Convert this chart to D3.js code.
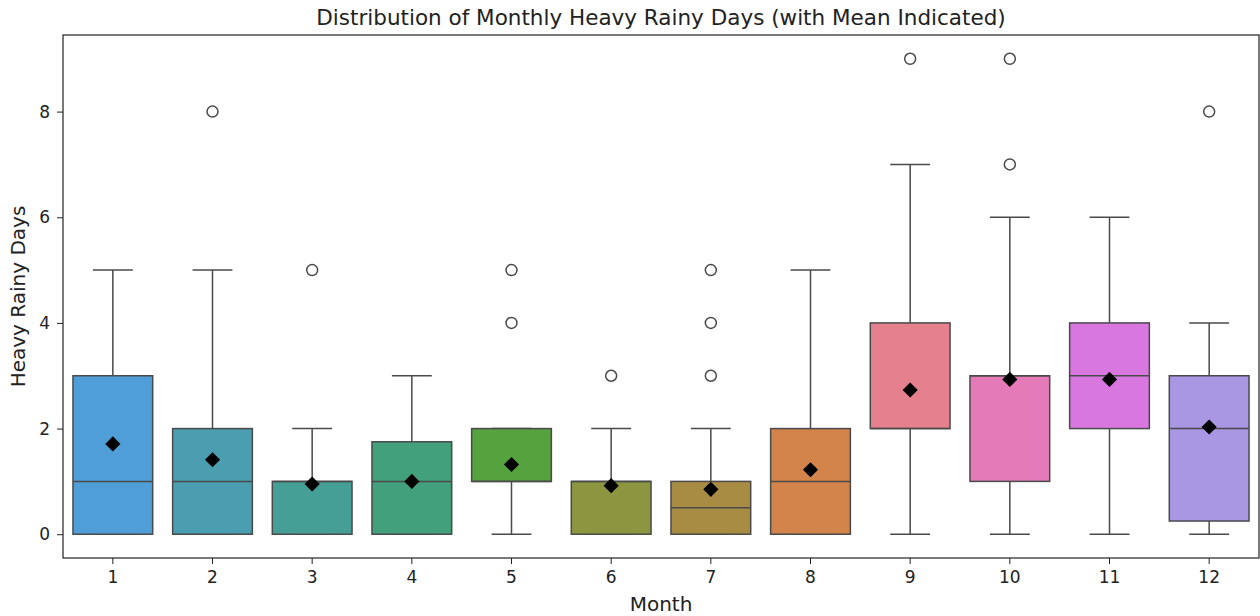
<!DOCTYPE html>
<html>
<head>
<meta charset="utf-8">
<script src="https://cdn.jsdelivr.net/npm/d3@7"></script>
<style>
    body { margin: 0; background: #fff; }
    text { font-family: "DejaVu Sans", sans-serif; fill: #222; }
</style>
</head>
<body>
<svg width="1260" height="616"></svg>
<script>
var months = ["1", "2", "3", "4", "5", "6", "7", "8", "9", "10", "11", "12"];
var q1 = [0, 0, 0, 0, 1, 0, 0, 0, 2, 1, 2, 0.25];
var medians = [1, 1, 1, 1, 1, 1, 0.5, 1, 2, 3, 3, 2];
var q3 = [3, 2, 1, 1.75, 2, 1, 1, 2, 4, 3, 4, 3];
var whiskerLow = [0, 0, 0, 0, 0, 0, 0, 0, 0, 0, 0, 0];
var whiskerHigh = [5, 5, 2, 3, 2, 2, 2, 5, 7, 6, 6, 4];
var means = [1.71, 1.41, 0.95, 1.0, 1.32, 0.92, 0.85, 1.22, 2.73, 2.93, 2.93, 2.03];
var outliers = [[], [8], [5], [], [4, 5], [3], [3, 4, 5], [], [9], [7, 9], [], [8]];
var colors = ["#509ed8", "#4a9eb0", "#469f96", "#42a07c", "#55a23e", "#8c9640",
              "#a88c44", "#d2844a", "#e5808e", "#e47ab8", "#d877e0", "#a997e4"];
var yTicks = [0, 2, 4, 6, 8];

var plotLeft = 63, plotRight = 1259, plotTop = 35, plotBottom = 558;
var lineColor = "#4a4a4a";

var svg = d3.select("svg");

var x = d3.scaleBand()
    .domain(months)
    .range([plotLeft, plotRight])
    .paddingInner(0)
    .paddingOuter(0);
var y = d3.scaleLinear()
    .domain([-0.45, 9.45])
    .range([plotBottom, plotTop]);

var bw = x.bandwidth() * 0.8;

months.forEach(function (m, i) {
    var cx = x(m) + x.bandwidth() / 2;
    var g = svg.append("g");
    // whiskers
    g.append("line")
        .attr("x1", cx).attr("x2", cx)
        .attr("y1", y(q3[i])).attr("y2", y(whiskerHigh[i]))
        .attr("stroke", lineColor).attr("stroke-width", 1.5);
    g.append("line")
        .attr("x1", cx).attr("x2", cx)
        .attr("y1", y(q1[i])).attr("y2", y(whiskerLow[i]))
        .attr("stroke", lineColor).attr("stroke-width", 1.5);
    [whiskerHigh[i], whiskerLow[i]].forEach(function (v) {
        g.append("line")
            .attr("x1", cx - bw / 4).attr("x2", cx + bw / 4)
            .attr("y1", y(v)).attr("y2", y(v))
            .attr("stroke", lineColor).attr("stroke-width", 1.5);
    });
    g.append("rect")
        .attr("x", cx - bw / 2)
        .attr("y", y(q3[i]))
        .attr("width", bw)
        .attr("height", y(q1[i]) - y(q3[i]))
        .attr("fill", colors[i])
        .attr("stroke", lineColor).attr("stroke-width", 1.5);
    g.append("line")
        .attr("x1", cx - bw / 2).attr("x2", cx + bw / 2)
        .attr("y1", y(medians[i])).attr("y2", y(medians[i]))
        .attr("stroke", lineColor).attr("stroke-width", 1.5);
    outliers[i].forEach(function (v) {
        g.append("circle")
            .attr("cx", cx).attr("cy", y(v)).attr("r", 5.5)
            .attr("fill", "none")
            .attr("stroke", lineColor).attr("stroke-width", 1.5);
    });
    g.append("path")
        .attr("d", d3.symbol().type(d3.symbolSquare).size(115))
        .attr("transform", "translate(" + cx + "," + y(means[i]) + ") rotate(45)")
        .attr("fill", "#000");
});

// axes
var xAxis = svg.append("g")
    .attr("transform", "translate(0," + plotBottom + ")")
    .call(d3.axisBottom(x).tickSizeOuter(0).tickSize(6).tickPadding(7));
var yAxis = svg.append("g")
    .attr("transform", "translate(" + plotLeft + ",0)")
    .call(d3.axisLeft(y).tickValues(yTicks).tickSizeOuter(0).tickSize(6).tickPadding(7));
[xAxis, yAxis].forEach(function (a) {
    a.attr("font-size", null).attr("font-family", null);
    a.selectAll("text").style("font-size", "17px").style("fill", "#222");
    a.selectAll("line").attr("stroke", "#222");
    a.select(".domain").remove();
});

svg.append("rect")
    .attr("x", plotLeft).attr("y", plotTop)
    .attr("width", plotRight - plotLeft).attr("height", plotBottom - plotTop)
    .attr("fill", "none").attr("stroke", "#222").attr("stroke-width", 1.2);

svg.append("text")
    .attr("x", (plotLeft + plotRight) / 2).attr("y", 25)
    .attr("text-anchor", "middle")
    .style("font-size", "21.5px")
    .text("Distribution of Monthly Heavy Rainy Days (with Mean Indicated)");
svg.append("text")
    .attr("x", (plotLeft + plotRight) / 2).attr("y", 611)
    .attr("text-anchor", "middle")
    .style("font-size", "20px")
    .text("Month");
svg.append("text")
    .attr("transform", "translate(25," + ((plotTop + plotBottom) / 2) + ") rotate(-90)")
    .attr("text-anchor", "middle")
    .style("font-size", "20px")
    .text("Heavy Rainy Days");
</script>
</body>
</html>
